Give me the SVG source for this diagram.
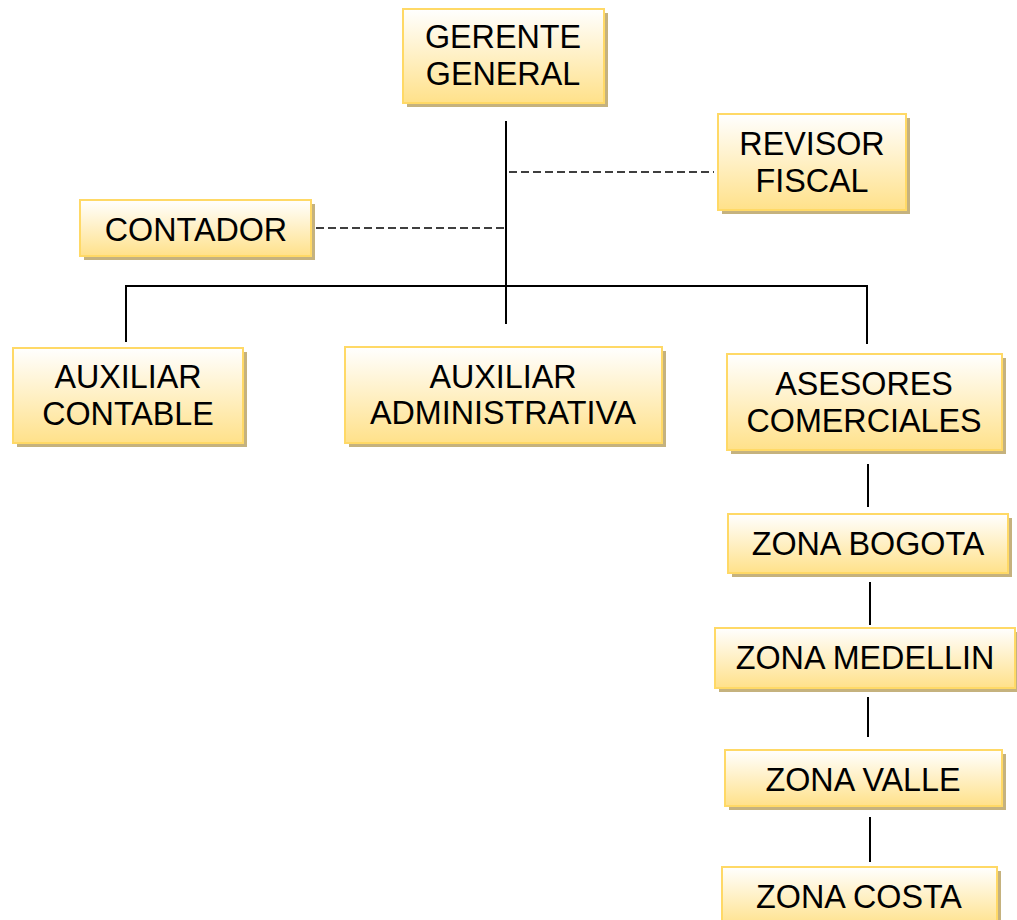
<svg xmlns="http://www.w3.org/2000/svg" width="1017" height="920" viewBox="0 0 1017 920">
<defs>
<linearGradient id="g" x1="0" y1="0" x2="0" y2="1">
<stop offset="0" stop-color="#FFFFFF"/>
<stop offset="1" stop-color="#FFE18A"/>
</linearGradient>
</defs>
<style>
.sh{fill:#C5B27E}
.bx{fill:url(#g);stroke:#FFD966;stroke-width:2}
.t{font-family:"Liberation Sans",Arial,sans-serif;font-size:32.3px;fill:#000;text-anchor:middle}
.ln{stroke:#000;stroke-width:2;fill:none}
.ds{stroke:#000;stroke-width:1.6;fill:none;stroke-dasharray:8 4}
</style>
<rect width="1017" height="920" fill="#FFFFFF"/>
<g id="connectors">
<line class="ln" x1="506" y1="121" x2="506" y2="324"/>
<line class="ds" x1="509" y1="172" x2="714" y2="172"/>
<line class="ds" x1="316" y1="228" x2="507" y2="228"/>
<line class="ln" x1="125" y1="286" x2="868" y2="286"/>
<line class="ln" x1="126" y1="286" x2="126" y2="342"/>
<line class="ln" x1="867" y1="286" x2="867" y2="344"/>
<line class="ln" x1="868" y1="464" x2="868" y2="507"/>
<line class="ln" x1="870" y1="582" x2="870" y2="625"/>
<line class="ln" x1="868" y1="697" x2="868" y2="737"/>
<line class="ln" x1="870" y1="817" x2="870" y2="862"/>
</g>
<g id="gerente">
<rect class="sh" x="407" y="13" width="201" height="94"/>
<rect class="bx" x="403" y="9" width="201" height="94"/>
<text class="t" x="503" y="48">GERENTE</text>
<text class="t" x="503" y="85">GENERAL</text>
</g>
<g id="revisor">
<rect class="sh" x="722" y="118" width="188" height="96"/>
<rect class="bx" x="718" y="114" width="188" height="96"/>
<text class="t" x="812" y="155">REVISOR</text>
<text class="t" x="812" y="192">FISCAL</text>
</g>
<g id="contador">
<rect class="sh" x="84" y="204" width="231" height="56"/>
<rect class="bx" x="80" y="200" width="231" height="56"/>
<text class="t" x="196" y="241">CONTADOR</text>
</g>
<g id="aux-contable">
<rect class="sh" x="17" y="352" width="230" height="95"/>
<rect class="bx" x="13" y="348" width="230" height="95"/>
<text class="t" x="128" y="388">AUXILIAR</text>
<text class="t" x="128" y="425">CONTABLE</text>
</g>
<g id="aux-admin">
<rect class="sh" x="349" y="351" width="317" height="96"/>
<rect class="bx" x="345" y="347" width="317" height="96"/>
<text class="t" x="503" y="388">AUXILIAR</text>
<text class="t" x="503" y="424">ADMINISTRATIVA</text>
</g>
<g id="asesores">
<rect class="sh" x="731" y="358" width="275" height="96"/>
<rect class="bx" x="727" y="354" width="275" height="96"/>
<text class="t" x="864" y="395">ASESORES</text>
<text class="t" x="864" y="432">COMERCIALES</text>
</g>
<g id="bogota">
<rect class="sh" x="732" y="518" width="280" height="59"/>
<rect class="bx" x="728" y="514" width="280" height="59"/>
<text class="t" x="868" y="555">ZONA BOGOTA</text>
</g>
<g id="medellin">
<rect class="sh" x="719" y="632" width="300" height="60"/>
<rect class="bx" x="715" y="628" width="300" height="60"/>
<text class="t" x="865" y="669">ZONA MEDELLIN</text>
</g>
<g id="valle">
<rect class="sh" x="729" y="754" width="277" height="56"/>
<rect class="bx" x="725" y="750" width="277" height="56"/>
<text class="t" x="863" y="791">ZONA VALLE</text>
</g>
<g id="costa">
<rect class="sh" x="726" y="871" width="275" height="60"/>
<rect class="bx" x="722" y="867" width="275" height="60"/>
<text class="t" x="859" y="908">ZONA COSTA</text>
</g>
</svg>
